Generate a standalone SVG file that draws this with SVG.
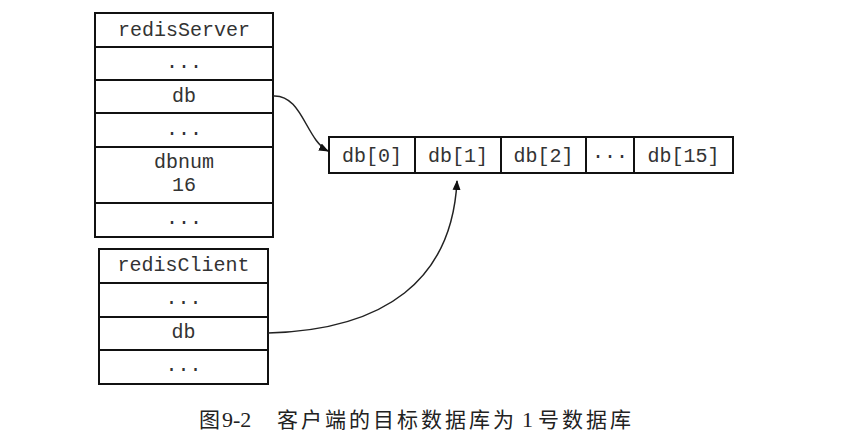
<svg xmlns="http://www.w3.org/2000/svg" width="854" height="446" viewBox="0 0 854 446">
<defs>
<style>
.box{fill:#fff;stroke:#111;stroke-width:2}
.ln{stroke:#111;stroke-width:2}
.t{font-family:"Liberation Mono","DejaVu Sans Mono",monospace;font-size:20px;fill:#333;text-anchor:middle}
.cap{font-family:"Liberation Serif","Noto Sans CJK SC",serif;font-size:21px;fill:#222}
.lat{font-family:"Liberation Serif",serif;font-size:22px;fill:#222}
.conn{fill:none;stroke:#222;stroke-width:1.5}
</style>
<marker id="ah" viewBox="0 0 10 10" refX="9" refY="5" markerWidth="10" markerHeight="10" markerUnits="userSpaceOnUse" orient="auto">
<path d="M0,1 L10,5 L0,9 Z" fill="#111"/>
</marker>
</defs>
<rect width="854" height="446" fill="#fff"/>
<g id="redisServer">
<rect class="box" x="95" y="13" width="178" height="224"/>
<line class="ln" x1="95" y1="47" x2="273" y2="47"/>
<line class="ln" x1="95" y1="80" x2="273" y2="80"/>
<line class="ln" x1="95" y1="113" x2="273" y2="113"/>
<line class="ln" x1="95" y1="147" x2="273" y2="147"/>
<line class="ln" x1="95" y1="203" x2="273" y2="203"/>
<text class="t" x="184" y="36">redisServer</text>
<text class="t" x="184" y="68">...</text>
<text class="t" x="184" y="102">db</text>
<text class="t" x="184" y="135">...</text>
<text class="t" x="184" y="168">dbnum</text>
<text class="t" x="184" y="191">16</text>
<text class="t" x="184" y="224">...</text>
</g>
<g id="redisClient">
<rect class="box" x="99" y="249" width="169" height="135"/>
<line class="ln" x1="99" y1="283" x2="268" y2="283"/>
<line class="ln" x1="99" y1="317" x2="268" y2="317"/>
<line class="ln" x1="99" y1="350" x2="268" y2="350"/>
<text class="t" x="183.5" y="271">redisClient</text>
<text class="t" x="183.5" y="304">...</text>
<text class="t" x="183.5" y="338">db</text>
<text class="t" x="183.5" y="371">...</text>
</g>
<g id="dbArray">
<rect class="box" x="329" y="137" width="404" height="36"/>
<line class="ln" x1="415" y1="137" x2="415" y2="173"/>
<line class="ln" x1="501" y1="137" x2="501" y2="173"/>
<line class="ln" x1="586" y1="137" x2="586" y2="173"/>
<line class="ln" x1="634" y1="137" x2="634" y2="173"/>
<text class="t" x="372" y="162">db[0]</text>
<text class="t" x="458" y="162">db[1]</text>
<text class="t" x="543.5" y="162">db[2]</text>
<text class="t" x="610" y="158">...</text>
<text class="t" x="683.5" y="162">db[15]</text>
</g>
<g id="connectors">
<path class="conn" d="M273,96 C302,94 306,140 328,151" marker-end="url(#ah)"/>
<path class="conn" d="M268,333 C385,330 452,280 457,181" marker-end="url(#ah)"/>
</g>
<g id="caption">
<text class="cap" x="199" y="427">图</text>
<text class="lat" x="222" y="427">9-2</text>
<text class="cap" x="277" y="427" letter-spacing="3">客户端的目标数据库为</text>
<text class="lat" x="522" y="427">1</text>
<text class="cap" x="538" y="427" letter-spacing="3">号数据库</text>
</g>
</svg>
